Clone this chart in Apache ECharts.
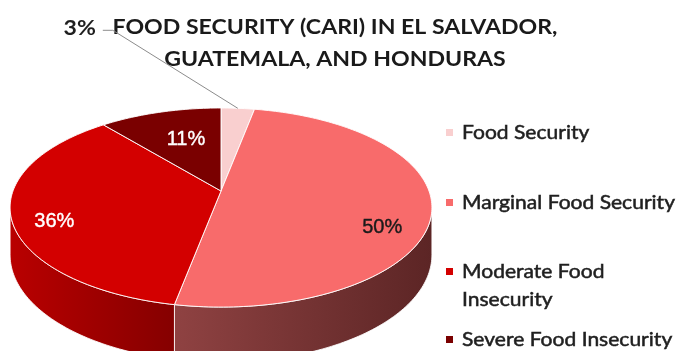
<!DOCTYPE html>
<html>
<head>
<meta charset="utf-8">
<title>Food Security (CARI)</title>
<script src="https://cdn.jsdelivr.net/npm/echarts@6/dist/echarts.min.js"></script>
<style>
  html, body { margin: 0; padding: 0; background: #ffffff; }
  #chart { width: 678px; height: 351px; }
</style>
</head>
<body>
<div id="chart"></div>
<script>
// ---- data ----
const categories = ['Food Security', 'Marginal Food Security', 'Moderate Food Insecurity', 'Severe Food Insecurity'];
const shares = [3, 50, 36, 11];
const legendLabels = ['Food Security', 'Marginal Food Security', 'Moderate Food\nInsecurity', 'Severe Food Insecurity'];
const titleLines = ['FOOD SECURITY (CARI) IN EL SALVADOR,', 'GUATEMALA, AND HONDURAS'];

// ---- styles ----
const topColors = ['#F9CFCF', '#F86B6B', '#D30000', '#7A0000'];
const wallColors = [['#E8B5B5', '#C99A9A'], ['#8F4242', '#5C2525'], ['#B90000', '#850000'], ['#650000', '#4A0000']];
const labelColors = ['#1a1a1a', '#1a1a1a', '#ffffff', '#ffffff'];
// placement of each slice label: fraction of the radius along the mid angle, plus a vertical nudge
const labelPlace = [null, { r: 0.77, dy: 22 }, { r: 0.80, dy: 11 }, { r: 0.54, dy: -6 }];
// outside label (small slice): offset of the elbow from the rim point and the short tail
const outsideLabel = { dx: -125, dy: -78, tail: 10 };
const legendRows = [133, 203, 272, 340];

const titleFont = 'bold 20px Lato, sans-serif';
const titleWidth = 445;          // width of the first title line
const legendFont = '19px Lato, sans-serif';
const legendWidth = 213;         // width of the longest legend line
const labelFont = '20px "Liberation Sans", Arial, sans-serif';

// horizontal stretch so the text fills its box
const measureCtx = document.createElement('canvas').getContext('2d');
function textWidth(str, font) { measureCtx.font = font; return measureCtx.measureText(str).width; }
const titleScale = titleWidth / textWidth(titleLines[0], titleFont);
const legendScale = legendWidth / textWidth('Marginal Food Security', legendFont);

// tilted disc seen in perspective
const disc = { cx: 221, cy: 191, rx: 208, ry: 96.8, k: 0.166, depth: 46 };

function project(theta, frac, drop) {
  const x = Math.sin(theta) * frac;
  const z = -Math.cos(theta) * frac;
  const w = 1 - disc.k * z;
  return [disc.cx + disc.rx * x / w, disc.cy + disc.ry * z / w + (drop || 0) / w];
}

const total = shares.reduce((a, b) => a + b, 0);
const startAngles = [];
shares.reduce((acc, v, i) => { startAngles[i] = acc; return acc + v / total * Math.PI * 2; }, 0);
function endAngle(i) { return startAngles[i] + shares[i] / total * Math.PI * 2; }

function arcPoints(a0, a1, drop) {
  const pts = [];
  const n = Math.max(2, Math.ceil((a1 - a0) / 0.02));
  for (let s = 0; s <= n; s++) pts.push(project(a0 + (a1 - a0) * s / n, 1, drop));
  return pts;
}

// front-facing part of the side wall
const frontFrom = Math.acos(-disc.k);
const frontTo = Math.PI * 2 - frontFrom;

function renderWall(params, api) {
  const i = params.dataIndex;
  const a0 = Math.max(startAngles[i], frontFrom);
  const a1 = Math.min(endAngle(i), frontTo);
  if (a1 <= a0) return null;
  const upper = arcPoints(a0, a1, 0);
  const lower = arcPoints(a0, a1, disc.depth).reverse();
  const pts = upper.concat(lower);
  const xs = pts.map(p => p[0]);
  const x0 = Math.min.apply(null, xs), x1 = Math.max.apply(null, xs);
  const fill = new echarts.graphic.LinearGradient(x0, 0, x1, 0, [
    { offset: 0, color: wallColors[i][0] },
    { offset: 1, color: wallColors[i][1] }
  ], true);
  return {
    type: 'polygon',
    shape: { points: pts },
    style: { fill: fill, stroke: 'rgba(255,255,255,0.85)', lineWidth: 1 }
  };
}

function renderTop(params, api) {
  const i = params.dataIndex;
  const a0 = startAngles[i], a1 = endAngle(i);
  const pts = [[disc.cx, disc.cy]].concat(arcPoints(a0, a1, 0));
  return {
    type: 'polygon',
    shape: { points: pts },
    style: { fill: topColors[i], stroke: 'rgba(255,255,255,0.9)', lineWidth: 1 }
  };
}

function renderLabel(params, api) {
  const i = params.dataIndex;
  const v = api.value(1);
  const mid = (startAngles[i] + endAngle(i)) / 2;
  const text = v + '%';
  if (!labelPlace[i]) {
    const rim = project(mid, 1, 0);
    const elbow = [rim[0] + outsideLabel.dx, rim[1] + outsideLabel.dy];
    const end = [elbow[0] - outsideLabel.tail, elbow[1]];
    return {
      type: 'group',
      children: [
        { type: 'polyline', shape: { points: [rim, elbow, end] }, style: { stroke: '#8c8c8c', lineWidth: 1, fill: null } },
        { type: 'text', x: end[0] - 7, y: end[1] - 2, scaleX: titleScale, style: { text: text, fill: '#1f1f1f', font: titleFont, align: 'right', verticalAlign: 'middle' } }
      ]
    };
  }
  const p = project(mid, labelPlace[i].r, 0);
  return {
    type: 'text', x: p[0], y: p[1] + labelPlace[i].dy,
    style: { text: text, fill: labelColors[i], font: labelFont, align: 'center', verticalAlign: 'middle',
             stroke: labelColors[i], lineWidth: 0.4 }
  };
}

const seriesData = categories.map((name, i) => ({ name: name, value: [i, shares[i]] }));

const legendGraphics = [];
categories.forEach((name, i) => {
  legendGraphics.push({ type: 'rect', x: 446, y: legendRows[i] - 4, shape: { width: 7, height: 7 }, style: { fill: topColors[i] } });
  legendGraphics.push({ type: 'text', x: 462, y: legendRows[i] - 14, scaleX: legendScale,
    style: { text: legendLabels[i], fill: '#1f1f1f', font: legendFont, lineHeight: 28, align: 'left', verticalAlign: 'top',
             stroke: '#1f1f1f', lineWidth: 0.5 } });
});

const chart = echarts.init(document.getElementById('chart'), null, { renderer: 'canvas' });
chart.setOption({
  backgroundColor: '#ffffff',
  animation: false,
  graphic: [
    { type: 'text', x: 335, y: 12, scaleX: titleScale, style: { text: titleLines.join('\n'), fill: '#1a1a1a', font: titleFont, align: 'center', lineHeight: 32 } }
  ].concat(legendGraphics),
  series: [
    { type: 'custom', name: 'wall', coordinateSystem: 'none', renderItem: renderWall, data: seriesData, z: 1, silent: true },
    { type: 'custom', name: 'top', coordinateSystem: 'none', renderItem: renderTop, data: seriesData, z: 2, silent: true },
    { type: 'custom', name: 'labels', coordinateSystem: 'none', renderItem: renderLabel, data: seriesData, z: 3, silent: true }
  ]
});
</script>
</body>
</html>
